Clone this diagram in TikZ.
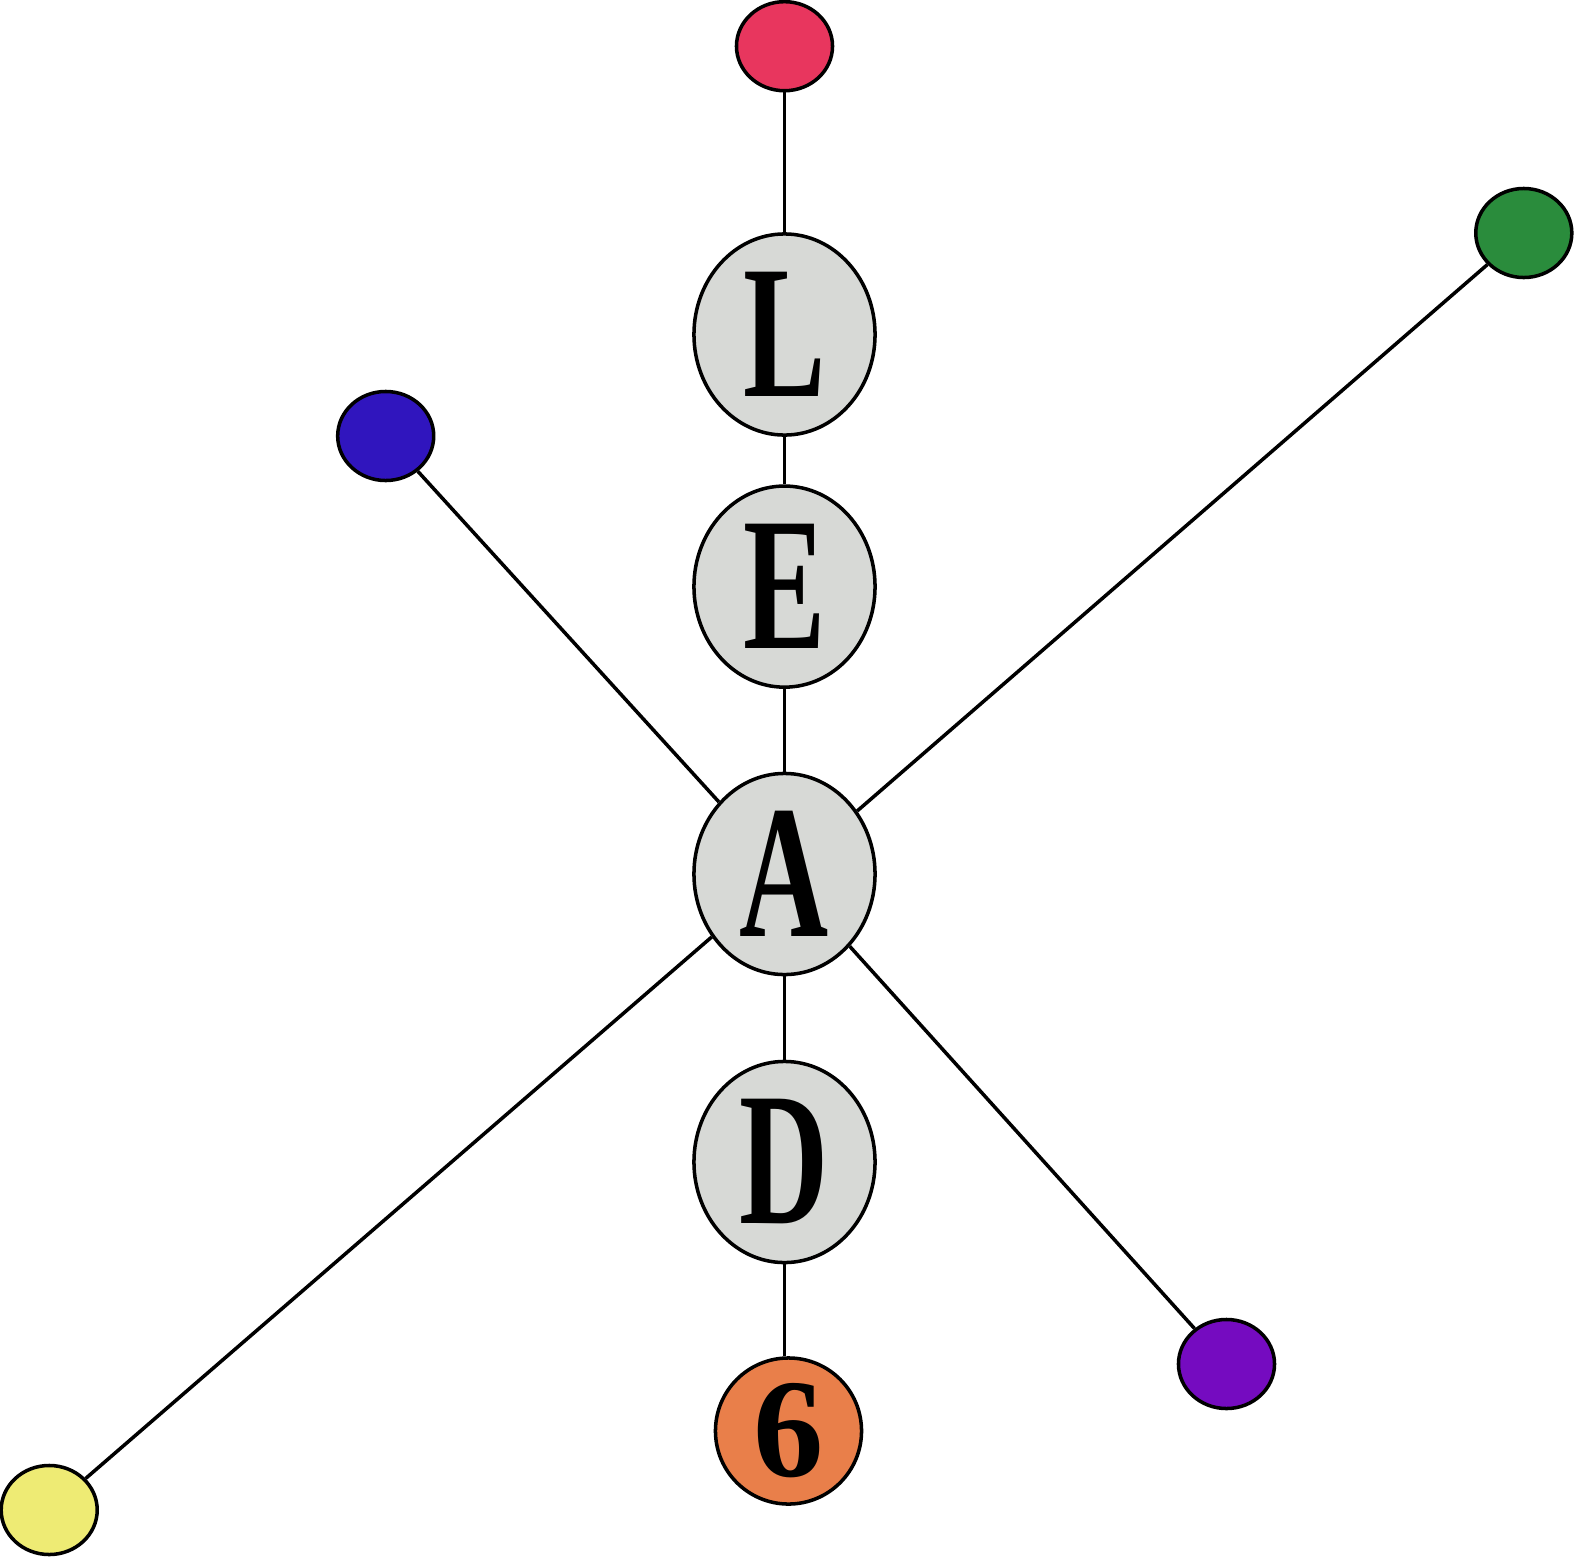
\documentclass[tikz,border=0pt]{standalone}
\usepackage{fontspec}
\setmainfont{Liberation Serif}
\usetikzlibrary{shapes.geometric}

\definecolor{dotred}{HTML}{E8365E}
\definecolor{dotgreen}{HTML}{2A8C3C}
\definecolor{dotblue}{HTML}{3015BE}
\definecolor{dotpurple}{HTML}{750BC0}
\definecolor{dotyellow}{HTML}{EEEB74}
\definecolor{dotorange}{HTML}{E97F4A}
\definecolor{lettergray}{HTML}{D7D9D6}

\newcommand{\narrow}[2]{\scalebox{#1}[1]{#2}}

\begin{document}
\begin{tikzpicture}[
    x=0.01cm, y=-0.01cm,
    line width=1pt,
    letter/.style={ellipse, draw, fill=lettergray, inner sep=0pt,
        minimum width=1.81cm, minimum height=2.01cm,
        font=\fontsize{54}{60}\selectfont\bfseries},
    dot/.style={ellipse, draw, inner sep=0pt,
        minimum width=0.96cm, minimum height=0.89cm}
]
\useasboundingbox (0,0) rectangle (1575,1557);

% letters down the middle
\node[letter] (L) at (784.5,334.5) {\narrow{0.65}{L}};
\node[letter] (E) at (784.5,586.6) {\narrow{0.65}{E}};
\node[letter] (A) at (784.5,874) {\narrow{0.65}{A}};
\node[letter] (D) at (784.5,1162) {\narrow{0.65}{D}};
\node[circle, draw, fill=dotorange, inner sep=0pt, minimum size=1.46cm,
    font=\fontsize{40}{46}\selectfont\bfseries] (six) at (788.5,1431) {6};

% coloured dots
\node[dot, fill=dotred] (red) at (784.5,46.2) {};
\node[dot, fill=dotblue] (blue) at (385.7,436) {};
\node[dot, fill=dotgreen] (green) at (1523.8,233) {};
\node[dot, fill=dotpurple] (purple) at (1226.5,1364) {};
\node[dot, fill=dotyellow] (yellow) at (49.2,1510) {};

% spine
\draw (red) -- (L);
\draw (L) -- (E);
\draw (E) -- (A);
\draw (A) -- (D);
\draw (D) -- (D |- six.north);

% diagonals through A
\foreach \n in {blue, green, purple, yellow}
    \draw (A) -- (\n);

\end{tikzpicture}
\end{document}
